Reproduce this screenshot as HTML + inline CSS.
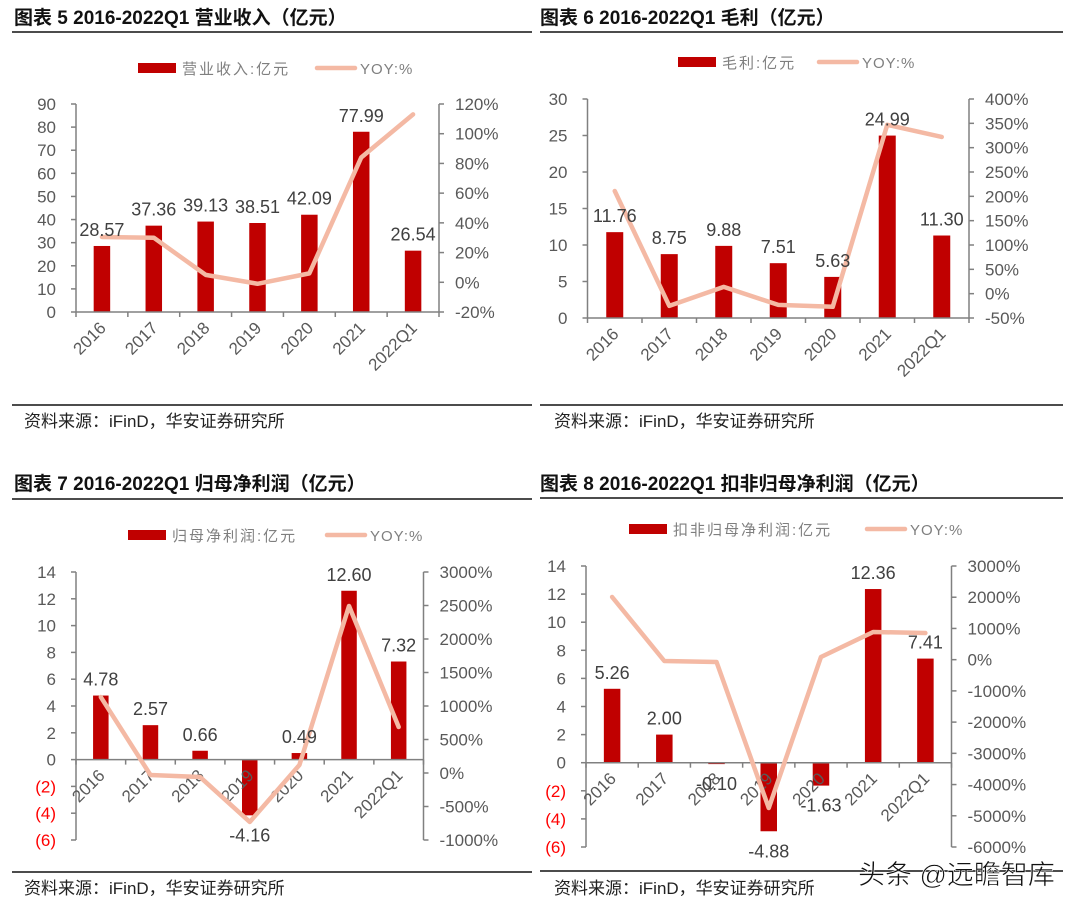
<!DOCTYPE html>
<html><head><meta charset="utf-8"><style>
html,body{margin:0;padding:0;background:#fff;}
svg{display:block;font-family:"Liberation Sans","Noto Sans CJK SC",sans-serif;}
</style></head><body>
<svg id="root" width="1080" height="909" viewBox="0 0 1080 909" xmlns="http://www.w3.org/2000/svg">
<g>
<text x="14" y="24" font-size="19" font-weight="bold" fill="#111">图表 5 2016-2022Q1 营业收入（亿元）</text>
<line x1="12" y1="32" x2="532" y2="32" stroke="#111" stroke-width="1.5"/>
<line x1="12" y1="405" x2="532" y2="405" stroke="#111" stroke-width="1.5"/>
<text x="24" y="427" font-size="17" fill="#222">资料来源：iFinD，华安证券研究所</text>
</g>
<g>
<text x="540" y="24" font-size="19" font-weight="bold" fill="#111">图表 6 2016-2022Q1 毛利（亿元）</text>
<line x1="540" y1="32" x2="1063" y2="32" stroke="#111" stroke-width="1.5"/>
<line x1="540" y1="405" x2="1063" y2="405" stroke="#111" stroke-width="1.5"/>
<text x="554" y="427" font-size="17" fill="#222">资料来源：iFinD，华安证券研究所</text>
</g>
<g>
<text x="14" y="490" font-size="19" font-weight="bold" fill="#111">图表 7 2016-2022Q1 归母净利润（亿元）</text>
<line x1="12" y1="499" x2="532" y2="499" stroke="#111" stroke-width="1.5"/>
<line x1="12" y1="872" x2="532" y2="872" stroke="#111" stroke-width="1.5"/>
<text x="24" y="894" font-size="17" fill="#222">资料来源：iFinD，华安证券研究所</text>
</g>
<g>
<text x="540" y="490" font-size="19" font-weight="bold" fill="#111">图表 8 2016-2022Q1 扣非归母净利润（亿元）</text>
<line x1="540" y1="498" x2="1063" y2="498" stroke="#111" stroke-width="1.5"/>
<line x1="540" y1="871" x2="1063" y2="871" stroke="#111" stroke-width="1.5"/>
<text x="554" y="894" font-size="17" fill="#222">资料来源：iFinD，华安证券研究所</text>
</g>
<text x="858" y="884" font-size="27" fill="#111" stroke="#fff" stroke-width="0.6">头条 @远瞻智库</text>
</svg>
<script>
const categories = ["2016","2017","2018","2019","2020","2021","2022Q1"];

const c5Values = [28.57,37.36,39.13,38.51,42.09,77.99,26.54];
const c5Yoy = [30.5,30,5,-1,6,84,113];
const c5LeftTicks = [0,10,20,30,40,50,60,70,80,90];
const c5RightTicks = [-20,0,20,40,60,80,100,120];

const c6Values = [11.76,8.75,9.88,7.51,5.63,24.99,11.30];
const c6Yoy = [211,-25,14,-23,-27,347,322];
const c6LeftTicks = [0,5,10,15,20,25,30];
const c6RightTicks = [-50,0,50,100,150,200,250,300,350,400];

const c7Values = [4.78,2.57,0.66,-4.16,0.49,12.60,7.32];
const c7Yoy = [1134,-30,-60,-731,119,2493,687];
const c7LeftTicks = [-6,-4,-2,0,2,4,6,8,10,12,14];
const c7RightTicks = [-1000,-500,0,500,1000,1500,2000,2500,3000];

const c8Values = [5.26,2.00,-0.10,-4.88,-1.63,12.36,7.41];
const c8Yoy = [2007,-43,-75,-4751,85,886,854];
const c8LeftTicks = [-6,-4,-2,0,2,4,6,8,10,12,14];
const c8RightTicks = [-6000,-5000,-4000,-3000,-2000,-1000,0,1000,2000,3000];

const NS = "http://www.w3.org/2000/svg";
const root = document.getElementById("root");
function mk(tag, attrs, parent, text) {
  const e = document.createElementNS(NS, tag);
  for (const k in attrs) e.setAttribute(k, attrs[k]);
  if (text !== undefined) e.textContent = text;
  parent.appendChild(e);
  return e;
}

function drawChart(id, L, values, yoy, lt, rt, legendName) {
  const g = mk("g", {}, root);
  
  
  const lmin = lt[0], lmax = lt[lt.length-1], rmin = rt[0], rmax = rt[rt.length-1];
  const yL = v => L.bottom - (v - lmin) / (lmax - lmin) * (L.bottom - L.top);
  const yR = v => L.bottom - (v - rmin) / (rmax - rmin) * (L.bottom - L.top);
  const bw = (L.right - L.left) / categories.length;
  const xC = i => L.left + bw * (i + 0.5);
  const y0 = yL(0);
  const axisColor = "#808080";
  const lg = mk("g", {}, g);
  
  
  const s1 = mk("rect", {x: L.legX, y: L.legY - 5, width: 38, height: 10, fill: "#c00000"}, lg);
  
  
  const t1 = mk("text", {x: L.legX + 44, y: L.legY + 6, "font-size": 15, fill: "#7f7f7f", "letter-spacing": "2"}, lg, legendName + ":亿元");
  
  
  const s2 = mk("line", {x1: L.leg2X, y1: L.legY, x2: L.leg2X + 38, y2: L.legY, stroke: "#f4b9a4", "stroke-width": 4.5, "stroke-linecap": "round"}, lg);
  
  
  const t2 = mk("text", {x: L.leg2X + 43, y: L.legY + 6, "font-size": 15, fill: "#7f7f7f", "letter-spacing": "1"}, lg, "YOY:%");
  
  
  mk("line", {x1: L.left, y1: L.top, x2: L.left, y2: L.bottom, stroke: axisColor, "stroke-width": 1.5}, g);
  mk("line", {x1: L.right, y1: L.top, x2: L.right, y2: L.bottom, stroke: axisColor, "stroke-width": 1.5}, g);
  lt.forEach(v => {
    const y = yL(v);
    mk("line", {x1: L.left - 5, y1: y, x2: L.left, y2: y, stroke: axisColor, "stroke-width": 1.5}, g);
    const neg = v < 0;
    const t = mk("text", {x: L.left - 20, y: y + 6, "font-size": 17, "text-anchor": "end", fill: neg ? "#ff0000" : "#595959"}, g, neg ? "(" + (-v) + ")" : String(v));
    
    
  });
  rt.forEach(v => {
    const y = yR(v);
    mk("line", {x1: L.right, y1: y, x2: L.right + 5, y2: y, stroke: axisColor, "stroke-width": 1.5}, g);
    const t = mk("text", {x: L.right + 16, y: y + 6, "font-size": 17, fill: "#595959"}, g, v + "%");
    
    
  });
  values.forEach((v, i) => {
    const top = Math.min(yL(v), y0), h = Math.abs(yL(v) - y0);
    const r = mk("rect", {x: xC(i) - L.barW / 2, y: top, width: L.barW, height: Math.max(h, 1), fill: "#c00000"}, g);
    
    
  });
  mk("line", {x1: L.left, y1: y0, x2: L.right, y2: y0, stroke: axisColor, "stroke-width": 1.5}, g);
  for (let i = 0; i <= categories.length; i++) {
    const x = L.left + bw * i;
    mk("line", {x1: x, y1: y0, x2: x, y2: y0 + 5, stroke: axisColor, "stroke-width": 1.5}, g);
  }
  categories.forEach((c, i) => {
    const x = xC(i) + 5, y = y0 + 17;
    const t = mk("text", {x: x, y: y, "font-size": 17, "text-anchor": "end", fill: "#595959", transform: "rotate(-45 " + x + " " + y + ")"}, g, c);
    
    
  });
  const pts = yoy.map((v, i) => xC(i) + "," + yR(v)).join(" ");
  const pl = mk("polyline", {points: pts, fill: "none", stroke: "#f4b9a4", "stroke-width": 4.5, "stroke-linejoin": "round", "stroke-linecap": "round"}, g);
  
  
  values.forEach((v, i) => {
    const y = v >= 0 ? yL(v) - 10 : yL(v) + 26;
    const t = mk("text", {x: xC(i), y: y, "font-size": 18, "text-anchor": "middle", fill: "#404040"}, g, v.toFixed(2));
    
    
  });
}

drawChart("chart5", {left: 76, right: 439, top: 104, bottom: 312, barW: 16.5, legX: 138, leg2X: 317, legY: 68}, c5Values, c5Yoy, c5LeftTicks, c5RightTicks, "营业收入");
drawChart("chart6", {left: 587.5, right: 969, top: 99, bottom: 318, barW: 17, legX: 678, leg2X: 819, legY: 62}, c6Values, c6Yoy, c6LeftTicks, c6RightTicks, "毛利");
drawChart("chart7", {left: 76, right: 423.5, top: 572, bottom: 840, barW: 15.5, legX: 128, leg2X: 327, legY: 535}, c7Values, c7Yoy, c7LeftTicks, c7RightTicks, "归母净利润");
drawChart("chart8", {left: 586, right: 951.5, top: 566, bottom: 847, barW: 16.5, legX: 629, leg2X: 867, legY: 529}, c8Values, c8Yoy, c8LeftTicks, c8RightTicks, "扣非归母净利润");
</script>
</body></html>
